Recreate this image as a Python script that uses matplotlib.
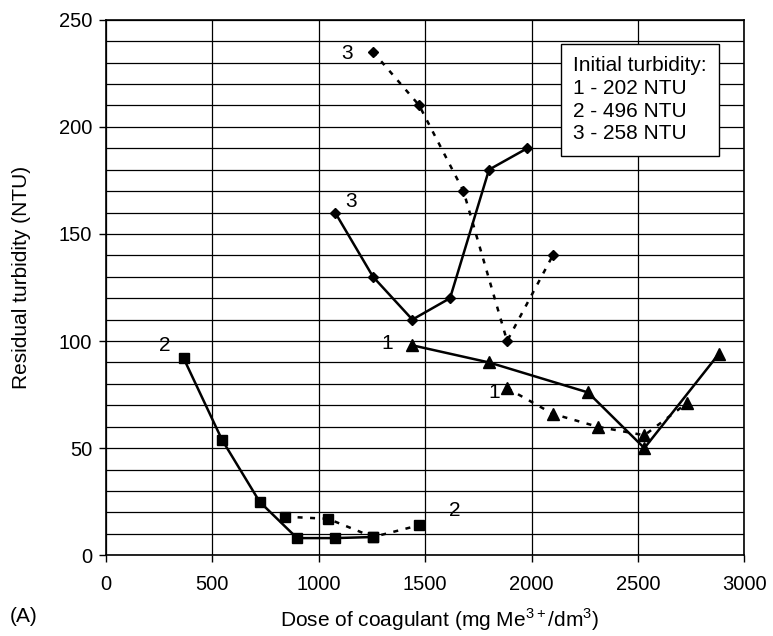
import matplotlib.pyplot as plt
from matplotlib.ticker import MultipleLocator

plt.rcParams['font.family'] = ['Liberation Sans', 'DejaVu Sans']
plt.rcParams['mathtext.fontset'] = 'custom'
plt.rcParams['mathtext.rm'] = 'Liberation Sans'

# series 1 (triangles)
dose_1a = [1440, 1800, 2265, 2530, 2880]
turb_1a = [98, 90, 76, 50, 94]
dose_1b = [1885, 2100, 2310, 2530, 2730]
turb_1b = [78, 66, 60, 56, 71]

# series 2 (squares)
dose_2a = [365, 545, 722, 898, 1077, 1255]
turb_2a = [92, 54, 25, 8, 8, 8.5]
dose_2b = [842, 1044, 1255, 1472]
turb_2b = [18, 17, 8.5, 14]

# series 3 (diamonds)
dose_3a = [1077, 1255, 1440, 1617, 1800, 1980]
turb_3a = [160, 130, 110, 120, 180, 190]
dose_3b = [1255, 1472, 1680, 1885, 2100]
turb_3b = [235, 210, 170, 100, 140]

legend_lines = ["Initial turbidity:", "1 - 202 NTU", "2 - 496 NTU", "3 - 258 NTU"]

fig = plt.figure(figsize=(7.73, 6.36), dpi=100)
ax = fig.add_axes([0.137, 0.127, 0.826, 0.842])

solid = dict(color='black', lw=1.8, ls='-')
dots = dict(color='black', lw=1.8, ls=(0, (2, 3)))

ax.plot(dose_1a, turb_1a, marker='^', ms=8.5, **solid)
ax.plot(dose_1b, turb_1b, marker='^', ms=8.5, **dots)
ax.plot(dose_2a, turb_2a, marker='s', ms=7.5, **solid)
ax.plot(dose_2b, turb_2b, marker='s', ms=7.5, **dots)
ax.plot(dose_3a, turb_3a, marker='D', ms=5.5, **solid)
ax.plot(dose_3b, turb_3b, marker='D', ms=5.5, **dots)

# curve numbers
lab = dict(fontsize=15, ha='center', va='center')
ax.text(1135, 234, "3", **lab)
ax.text(1150, 165, "3", **lab)
ax.text(275, 98, "2", **lab)
ax.text(1320, 99, "1", **lab)
ax.text(1825, 76, "1", **lab)
ax.text(1640, 21, "2", **lab)

ax.set_xlim(0, 3000)
ax.set_ylim(0, 250)
ax.xaxis.set_major_locator(MultipleLocator(500))
ax.yaxis.set_major_locator(MultipleLocator(50))
ax.yaxis.set_minor_locator(MultipleLocator(10))
ax.grid(True, which='both', color='black', lw=0.9)
ax.set_axisbelow(True)
ax.tick_params(axis='both', which='major', direction='out', length=5, width=1,
               labelsize=14.5, pad=5)
ax.tick_params(axis='x', which='major', pad=9)
ax.tick_params(axis='y', which='minor', left=False)
for s in ax.spines.values():
    s.set_linewidth(1.2)

ax.set_xlabel("Dose of coagulant (mg Me$^{3+}$/dm$^{3}$)", fontsize=15, labelpad=9)
ax.xaxis.label.set_x(0.522)
ax.set_ylabel("Residual turbidity (NTU)", fontsize=15, labelpad=20)
ax.yaxis.label.set_y(0.518)
fig.text(0.012, 0.03, "(A)", fontsize=15, ha='left', va='center')

ax.text(2196, 233, "\n".join(legend_lines), fontsize=15, ha='left', va='top',
        linespacing=1.25, zorder=5,
        bbox=dict(boxstyle='square,pad=0.6', fc='white', ec='black', lw=1))

fig.savefig("out.png", dpi=100)
